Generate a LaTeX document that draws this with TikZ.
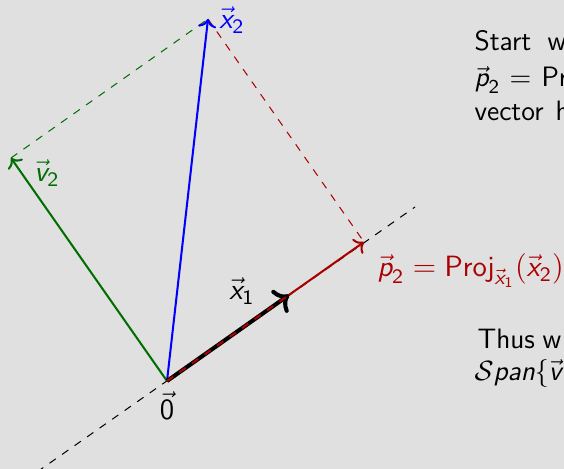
\documentclass[tikz,border=0pt]{standalone}
\usepackage{amsmath}
\usetikzlibrary{arrows.meta}
\definecolor{bgc}{RGB}{224,224,224}
\definecolor{vred}{RGB}{170,0,0}
\definecolor{vgreen}{RGB}{0,110,0}
\newcommand\sv[1]{\vec{\text{\slshape #1}}}
\tikzset{
  txt/.style={font=\fontsize{11}{13}\sffamily\selectfont, inner sep=0pt, anchor=base west},
  lbl/.style={font=\fontsize{11.5}{13}\sffamily\selectfont, inner sep=1pt},
  guide/.style={dashed, line width=0.4pt},
  vecline/.style={->, line width=0.8pt},
}
\begin{document}
\begin{tikzpicture}[x=0.3922pt, y=-0.3922pt]
\useasboundingbox[fill=bgc] (0,0) rectangle (564,469);
\clip (0,0) rectangle (564,469);
% points
\coordinate (O) at (167,381);
\coordinate (P2) at (364,242);
\coordinate (X1) at (289,295);
\coordinate (X2) at (208,19);
\coordinate (V2) at (11,158);
\coordinate (Lb) at (37,472);
\coordinate (Lt) at (415,207);
% guide lines
\draw[guide, black] (Lb) -- (Lt);
\draw[guide, vgreen] (V2) -- (X2);
\draw[guide, vred] (X2) -- (P2);
% vectors
\draw[vecline, blue] (O) -- (X2);
\draw[vecline, vgreen] (O) -- (V2);
\draw[vecline, vred] (O) -- (P2);
\draw[->, line width=1.6pt, black] (O) -- (X1);
\draw[dashed, line width=0.8pt, vred] (O) -- (X1);
% labels
\node[lbl, text=blue] (x2l) at (232,20) {$\sv{x}_{\text{2}}$};
\node[lbl, text=vgreen] (v2l) at (47,173) {$\sv{v}_{\text{2}}$};
\node[lbl] (x1l) at (242,291) {$\sv{x}_{\text{1}}$};
\node[lbl] (ol) at (167,406) {$\vec{\text{0}}$};
\node[lbl, inner sep=0pt, anchor=base west, text=vred] (p2l) at (377,277) {$\sv{p}_{\text{2}} = \text{Proj}_{\sv{x}_{\text{1}}}(\sv{x}_{\text{2}})$};
% side text (justified, cut off at the right edge)
\node[txt] (t1a) at (474,51) {Start};
\node[txt] (t1b) at (547,51) {w};
\node[txt] (t2a) at (474,87) {$\sv{p}_{\text{2}}$};
\node[txt] (t2b) at (509,87) {$=$};
\node[txt] (t2c) at (541,87) {Pr};
\node[txt] (t3a) at (474,121) {vector};
\node[txt] (t3b) at (555,121) {h};
\node[txt] (t4a) at (477,348) {Thus};
\node[txt] (t4b) at (542,348) {w};
\node[txt] (t5) at (474,380) {$\mathcal{S}\text{\slshape pan}\{\sv{v}$};
\end{tikzpicture}
\end{document}
